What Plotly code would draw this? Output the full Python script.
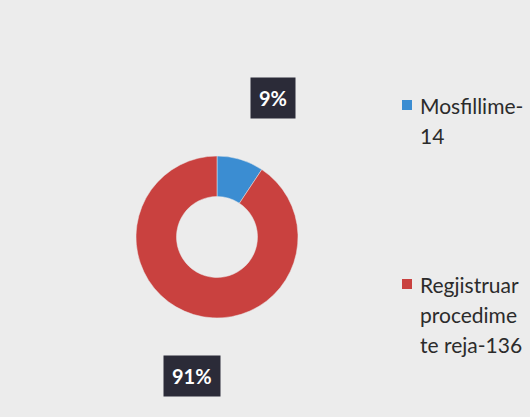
import plotly.graph_objects as go

categories = ["Mosfillime-14", "Regjistruar procedime te reja-136"]
counts = [14, 136]
colors = ["#3b8dd2", "#c9413f"]
legend_lines = [["Mosfillime-", "14"], ["Regjistruar", "procedime", "te reja-136"]]

W, H = 530, 417
cx, cy, r = 217, 237, 81  # donut centre / radius in px

total = sum(counts)
pcts = [round(100 * c / total) for c in counts]

fig = go.Figure()
fig.add_trace(go.Pie(
    labels=categories, values=counts, hole=0.5, sort=False,
    direction="clockwise", rotation=0,
    marker=dict(colors=colors, line=dict(color="#e8e8e8", width=0.5)),
    textinfo="none", hoverinfo="label+percent", showlegend=False,
    domain=dict(x=[(cx - r) / W, (cx + r) / W],
                y=[(H - cy - r) / H, (H - cy + r) / H]),
))

# percentage labels in dark boxes
label_pos = [(273, 98), (192, 376)]
for p, (x, y) in zip(pcts, label_pos):
    fig.add_annotation(x=x / W, y=1 - y / H, xref="paper", yref="paper",
                       xanchor="center", yanchor="middle",
                       text=f"<b>{p}%</b>", showarrow=False,
                       font=dict(family="Lato", size=20, color="white"),
                       bgcolor="#2b2b38", borderpad=8)

# manual legend
legend_top = [105, 284]
for col, lines, y0 in zip(colors, legend_lines, legend_top):
    fig.add_shape(type="rect", xref="paper", yref="paper",
                  x0=402 / W, x1=412 / W, y0=1 - (y0 - 5) / H, y1=1 - (y0 + 5) / H,
                  fillcolor=col, line=dict(width=0))
    for i, t in enumerate(lines):
        fig.add_annotation(x=418 / W, y=1 - (y0 + 30 * i) / H, xref="paper", yref="paper",
                           text=t, showarrow=False, xanchor="left", yanchor="middle",
                           font=dict(family="Lato", size=21, color="#2b2b2b"))

fig.update_layout(
    width=W, height=H, margin=dict(l=0, r=0, t=0, b=0),
    paper_bgcolor="#ececec", plot_bgcolor="#ececec",
)

fig.write_html("out.html", config={"displayModeBar": False},
               post_script="document.body.style.margin='0';")
